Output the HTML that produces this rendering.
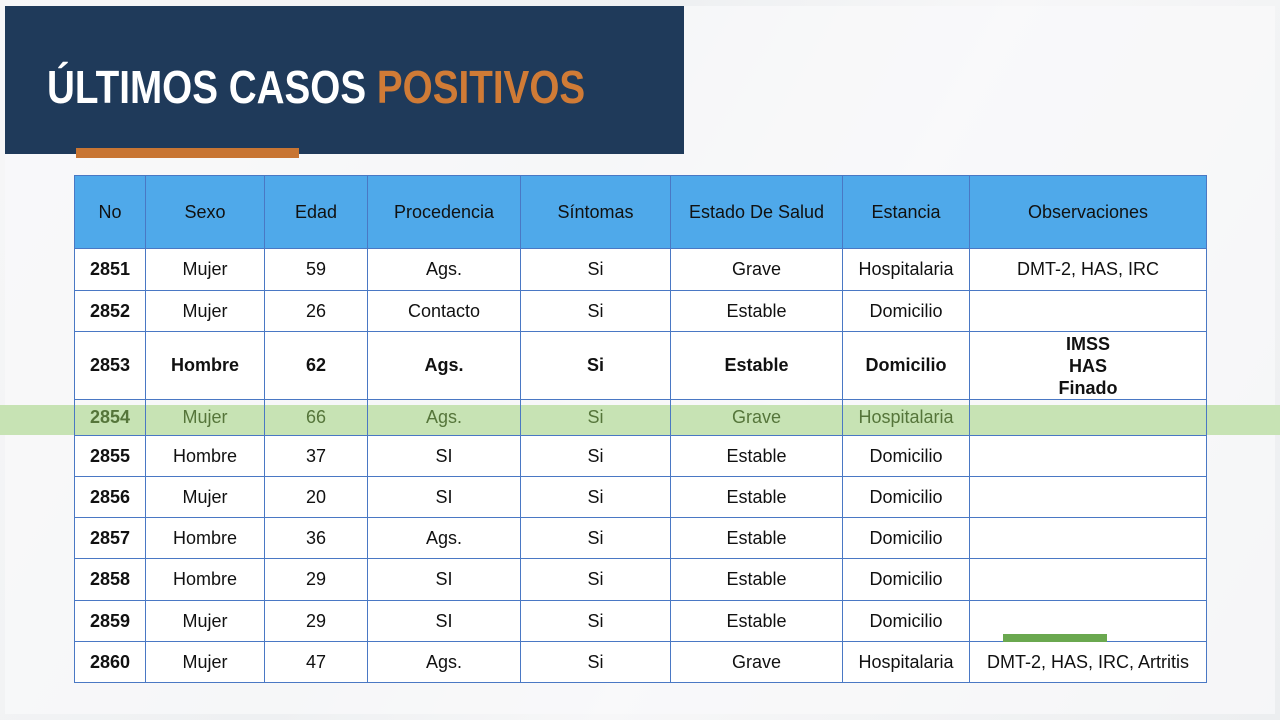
<!DOCTYPE html>
<html><head><meta charset="utf-8"><style>
body{margin:0;width:1280px;height:720px;overflow:hidden;background:#f3f4f6;position:relative;font-family:"Liberation Sans",sans-serif}
.bg{position:absolute;left:0;top:0;width:1280px;height:720px;background:linear-gradient(120deg,#f7f7f8 0%,#eef0f2 40%,#f7f7f8 60%,#eceef0 100%)}
.card{position:absolute;left:5px;top:6px;width:1270px;height:708px;background:rgba(250,250,251,0.7)}
.hdr{position:absolute;left:5px;top:6px;width:679px;height:148px;background:#1f3a5a}
.title{position:absolute;left:47px;top:60px;font-family:"Liberation Sans Narrow","Liberation Sans",sans-serif;font-weight:bold;font-size:46px;color:#fff;white-space:nowrap;transform-origin:left top;transform:scaleX(0.84)}
.title span{color:#d07b36}
.bar{position:absolute;left:76px;top:148px;width:223px;height:10px;background:#c87533}
table{position:absolute;left:74px;top:175px;border-collapse:collapse;table-layout:fixed}
td{border:1.5px solid #4a78c4;text-align:center;font-size:18px;color:#111;padding:0;background:#fff}
tr.h td{background:#4fa9ea;color:#111}
td.n{font-weight:bold}
tr.b td{font-weight:bold}
tr.g td{color:#55753a;background:transparent}
.green{position:absolute;left:0;top:405px;width:1280px;height:30px;background:#c7e3b4}
.gl{position:absolute;left:1003px;top:634px;width:104px;height:8px;background:#6aa84f}
</style></head><body>
<div class="bg"></div><div class="card"></div>
<div class="hdr"></div>
<div class="title">ÚLTIMOS CASOS <span>POSITIVOS</span></div>
<div class="bar"></div>
<div class="green"></div>
<table>
<colgroup><col style="width:71px"><col style="width:119px"><col style="width:103px"><col style="width:153px"><col style="width:150px"><col style="width:172px"><col style="width:127px"><col style="width:237px"></colgroup>
<tr class="h" style="height:73px"><td>No</td><td>Sexo</td><td>Edad</td><td>Procedencia</td><td>Síntomas</td><td>Estado De Salud</td><td>Estancia</td><td>Observaciones</td></tr>
<tr style="height:42px"><td class="n">2851</td><td>Mujer</td><td>59</td><td>Ags.</td><td>Si</td><td>Grave</td><td>Hospitalaria</td><td>DMT-2, HAS, IRC</td></tr>
<tr style="height:41px"><td class="n">2852</td><td>Mujer</td><td>26</td><td>Contacto</td><td>Si</td><td>Estable</td><td>Domicilio</td><td></td></tr>
<tr class="b" style="height:68px"><td>2853</td><td>Hombre</td><td>62</td><td>Ags.</td><td>Si</td><td>Estable</td><td>Domicilio</td><td style="line-height:22px">IMSS<br>HAS<br>Finado</td></tr>
<tr class="g" style="height:36px"><td class="n">2854</td><td>Mujer</td><td>66</td><td>Ags.</td><td>Si</td><td>Grave</td><td>Hospitalaria</td><td></td></tr>
<tr style="height:41px"><td class="n">2855</td><td>Hombre</td><td>37</td><td>SI</td><td>Si</td><td>Estable</td><td>Domicilio</td><td></td></tr>
<tr style="height:41px"><td class="n">2856</td><td>Mujer</td><td>20</td><td>SI</td><td>Si</td><td>Estable</td><td>Domicilio</td><td></td></tr>
<tr style="height:41px"><td class="n">2857</td><td>Hombre</td><td>36</td><td>Ags.</td><td>Si</td><td>Estable</td><td>Domicilio</td><td></td></tr>
<tr style="height:42px"><td class="n">2858</td><td>Hombre</td><td>29</td><td>SI</td><td>Si</td><td>Estable</td><td>Domicilio</td><td></td></tr>
<tr style="height:41px"><td class="n">2859</td><td>Mujer</td><td>29</td><td>SI</td><td>Si</td><td>Estable</td><td>Domicilio</td><td></td></tr>
<tr style="height:41px"><td class="n">2860</td><td>Mujer</td><td>47</td><td>Ags.</td><td>Si</td><td>Grave</td><td>Hospitalaria</td><td>DMT-2, HAS, IRC, Artritis</td></tr>
</table>
<div class="gl"></div>
</body></html>
